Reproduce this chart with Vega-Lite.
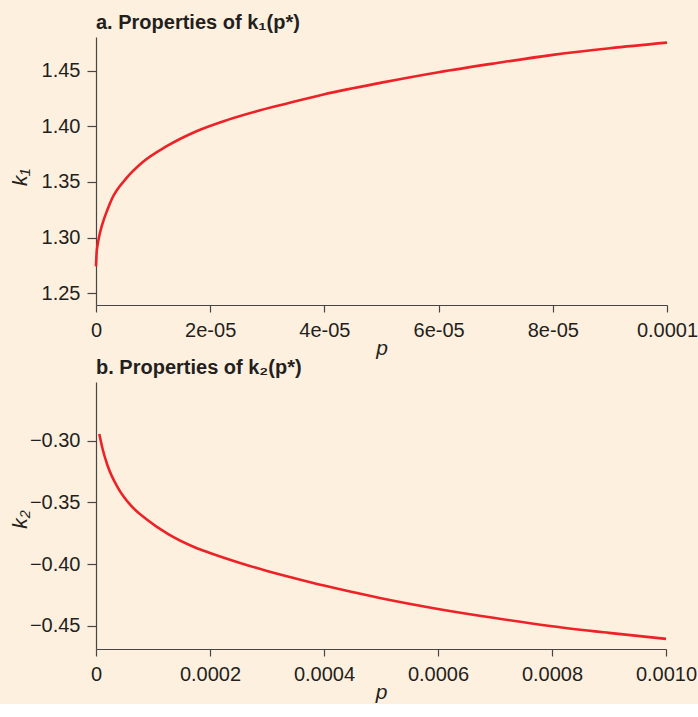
{
  "$schema": "https://vega.github.io/schema/vega-lite/v6.json",
  "background": "#fdf0df",
  "padding": {"left": 9, "top": 13, "right": 2, "bottom": 2},
  "spacing": 0,
  "config": {
    "view": {"stroke": null},
    "axis": {
      "grid": false,
      "domainColor": "#4a4545",
      "tickColor": "#4a4545",
      "labelColor": "#231f20",
      "titleColor": "#231f20",
      "labelFont": "Liberation Sans",
      "titleFont": "Liberation Sans",
      "labelFontSize": 20,
      "titleFontSize": 21,
      "titleFontWeight": "normal",
      "titleFontStyle": "italic",
      "domainWidth": 1.2,
      "tickWidth": 1.2
    },
    "axisX": {"tickSize": 7, "labelPadding": 8, "titlePadding": -3, "labelFlush": false},
    "axisY": {"tickSize": 9, "labelPadding": 7},
    "title": {
      "anchor": "start",
      "frame": "group",
      "font": "Liberation Sans",
      "fontSize": 20,
      "fontWeight": "bold",
      "color": "#231f20",
      "offset": 4
    }
  },
  "vconcat": [
    {
      "title": "a. Properties of k₁(p*)",
      "width": 571,
      "height": 268,
      "data": {
        "values": [
          {"p": 0, "k": 1.274},
          {"p": 0.0000001, "k": 1.2855},
          {"p": 0.0000003, "k": 1.294},
          {"p": 0.0000006, "k": 1.302},
          {"p": 0.00000117, "k": 1.313},
          {"p": 0.000002, "k": 1.325},
          {"p": 0.0000029, "k": 1.336},
          {"p": 0.00000525, "k": 1.353},
          {"p": 0.0000082, "k": 1.368},
          {"p": 0.0000123, "k": 1.382},
          {"p": 0.0000175, "k": 1.3955},
          {"p": 0.0000228, "k": 1.4055},
          {"p": 0.000028, "k": 1.4135},
          {"p": 0.0000333, "k": 1.4205},
          {"p": 0.00004, "k": 1.429},
          {"p": 0.00005, "k": 1.4395},
          {"p": 0.00006, "k": 1.4489},
          {"p": 0.00007, "k": 1.457},
          {"p": 0.00008, "k": 1.4645},
          {"p": 0.00009, "k": 1.4705},
          {"p": 0.0001, "k": 1.4755}
        ]
      },
      "mark": {"type": "line", "color": "#ec2227", "strokeWidth": 2.6, "interpolate": "monotone"},
      "encoding": {
        "x": {
          "field": "p",
          "type": "quantitative",
          "scale": {"domain": [0, 0.0001], "nice": false, "zero": false},
          "axis": {
            "title": "p",
            "values": [0, 0.00002, 0.00004, 0.00006, 0.00008, 0.0001],
            "labelExpr": "['0','2e-05','4e-05','6e-05','8e-05','0.0001'][round(datum.value/0.00002)]"
          }
        },
        "y": {
          "field": "k",
          "type": "quantitative",
          "scale": {"domain": [1.2392, 1.4806], "nice": false, "zero": false},
          "axis": {
            "title": "k₁",
            "values": [1.25, 1.3, 1.35, 1.4, 1.45],
            "format": ".2f",
            "titleX": -66,
            "titleY": 140
          }
        }
      }
    },
    {
      "title": "b. Properties of k₂(p*)",
      "width": 570,
      "height": 267,
      "data": {
        "values": [
          {"p": 0.0000058, "k": -0.2946},
          {"p": 0.0000116, "k": -0.3067},
          {"p": 0.0000204, "k": -0.3203},
          {"p": 0.000038, "k": -0.3378},
          {"p": 0.0000615, "k": -0.3527},
          {"p": 0.000088, "k": -0.3635},
          {"p": 0.000126, "k": -0.3756},
          {"p": 0.000173, "k": -0.3864},
          {"p": 0.0002, "k": -0.391},
          {"p": 0.00025, "k": -0.3987},
          {"p": 0.0003, "k": -0.4056},
          {"p": 0.00035, "k": -0.4117},
          {"p": 0.0004, "k": -0.4175},
          {"p": 0.0005, "k": -0.4277},
          {"p": 0.0006, "k": -0.4364},
          {"p": 0.0007, "k": -0.4438},
          {"p": 0.0008, "k": -0.4504},
          {"p": 0.0009, "k": -0.4558},
          {"p": 0.001, "k": -0.4607}
        ]
      },
      "mark": {"type": "line", "color": "#ec2227", "strokeWidth": 2.6, "interpolate": "monotone"},
      "encoding": {
        "x": {
          "field": "p",
          "type": "quantitative",
          "scale": {"domain": [0, 0.001], "nice": false, "zero": false},
          "axis": {
            "title": "p",
            "values": [0, 0.0002, 0.0004, 0.0006, 0.0008, 0.001],
            "labelExpr": "datum.value == 0 ? '0' : format(datum.value, '.4f')"
          }
        },
        "y": {
          "field": "k",
          "type": "quantitative",
          "scale": {"domain": [-0.4689, -0.2524], "nice": false, "zero": false},
          "axis": {
            "title": "k₂",
            "values": [-0.45, -0.4, -0.35, -0.3],
            "format": ".2f",
            "titleX": -66,
            "titleY": 137
          }
        }
      }
    }
  ]
}
